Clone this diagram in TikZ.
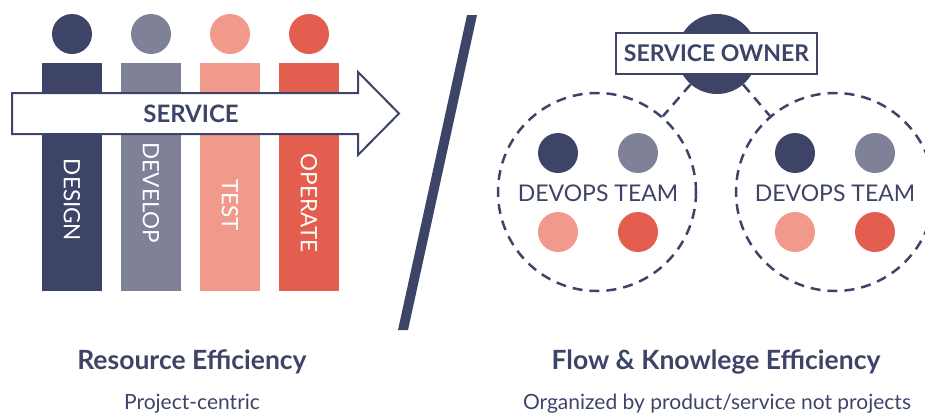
\documentclass[tikz,border=0pt]{standalone}
\usepackage{fontspec}
\setmainfont{Lato}
\usepackage{tikz}
\usepackage{xcolor}
\definecolor{navy}{HTML}{3E4468}
\definecolor{slate}{HTML}{7F8199}
\definecolor{salmon}{HTML}{F1998A}
\definecolor{coral}{HTML}{E35E4F}
\tikzset{
    head-dot/.style = {circle, inner sep=0pt, minimum size=40pt},
    bar-box/.style = {rectangle, inner sep=0pt, minimum width=60pt, minimum height=228pt},
    bar-label/.style = {text=white, inner sep=0pt, text depth=0pt, rotate=-90, font=\fontsize{22.5}{22.5}\selectfont},
    team-circle/.style = {circle, draw=navy, line width=2.5pt, dash pattern=on 10pt off 7pt, inner sep=0pt, minimum size=198pt},
    team-label/.style = {text=navy, inner sep=0pt, text depth=0pt, font=\fontsize{23}{23}\selectfont},
    owner-box/.style = {draw=navy, fill=white, line width=2pt, rectangle, inner sep=0pt, minimum width=201pt, minimum height=41pt, text=navy, font=\bfseries\fontsize{23}{23}\selectfont},
    link/.style = {draw=navy, line width=2.5pt, dash pattern=on 10pt off 7pt},
    title-text/.style = {text=navy, inner sep=0pt, anchor=base, font=\bfseries\fontsize{26.5}{26.5}\selectfont},
    sub-text/.style = {text=navy, inner sep=0pt, anchor=base, font=\fontsize{21}{21}\selectfont},
}

\begin{document}
\begin{tikzpicture}[x=1pt, y=-1pt]
\useasboundingbox (0,0) rectangle (925,418);

% left half: one role per column
\node[head-dot, fill=navy] (design-head) at (72,34) {};
\node[head-dot, fill=slate] (develop-head) at (151,34) {};
\node[head-dot, fill=salmon] (test-head) at (230,34) {};
\node[head-dot, fill=coral] (operate-head) at (309,34) {};
\node[bar-box, fill=navy] (design-bar) at (72,177) {};
\node[bar-box, fill=slate] (develop-bar) at (151,177) {};
\node[bar-box, fill=salmon] (test-bar) at (230,177) {};
\node[bar-box, fill=coral] (operate-bar) at (309,177) {};

\draw[navy, fill=white, line width=2pt, line join=miter]
    (12,93) -- (358,93) -- (358,72) -- (399,113.5) -- (358,155) -- (358,134) -- (12,134) -- cycle;
\node[text=navy, inner sep=0pt, text depth=0pt, font=\bfseries\fontsize{24}{24}\selectfont] (service) at (191,113.5) {SERVICE};

\node[bar-label] (design-label) at (72,200) {DESIGN};
\node[bar-label] (develop-label) at (151,193) {DEVELOP};
\node[bar-label] (test-label) at (230,205) {TEST};
\node[bar-label] (operate-label) at (309,203) {OPERATE};

% divider
\fill[navy] (467,15) -- (477,15) -- (408,330) -- (398,330) -- cycle;

% right half: teams around a service owner
\node[head-dot, fill=navy, minimum size=80pt] (owner) at (717,54) {};
\node[team-circle] (team-left) at (597,192) {};
\node[team-circle] (team-right) at (835,192) {};
\draw[link] (owner) -- (team-left);
\draw[link] (owner) -- (team-right);
\node[owner-box] (owner-box) at (716.5,53.5) {SERVICE OWNER};

\node[head-dot, fill=navy] (left-a) at (558,153) {};
\node[head-dot, fill=slate] (left-b) at (638,153) {};
\node[head-dot, fill=salmon] (left-c) at (558,232) {};
\node[head-dot, fill=coral] (left-d) at (638,232) {};
\node[team-label] (left-label) at (598,193) {DEVOPS TEAM};

\node[head-dot, fill=navy] (right-a) at (795,153) {};
\node[head-dot, fill=slate] (right-b) at (875,153) {};
\node[head-dot, fill=salmon] (right-c) at (795,232) {};
\node[head-dot, fill=coral] (right-d) at (875,232) {};
\node[team-label] (right-label) at (835,193) {DEVOPS TEAM};

% captions
\node[title-text] (left-title) at (192,369) {Resource Efficiency};
\node[sub-text] (left-sub) at (192,409) {Project-centric};
\node[title-text] (right-title) at (716,369) {Flow \& Knowlege Efficiency};
\node[sub-text] (right-sub) at (717,409) {Organized by product/service not projects};
\end{tikzpicture}
\end{document}
